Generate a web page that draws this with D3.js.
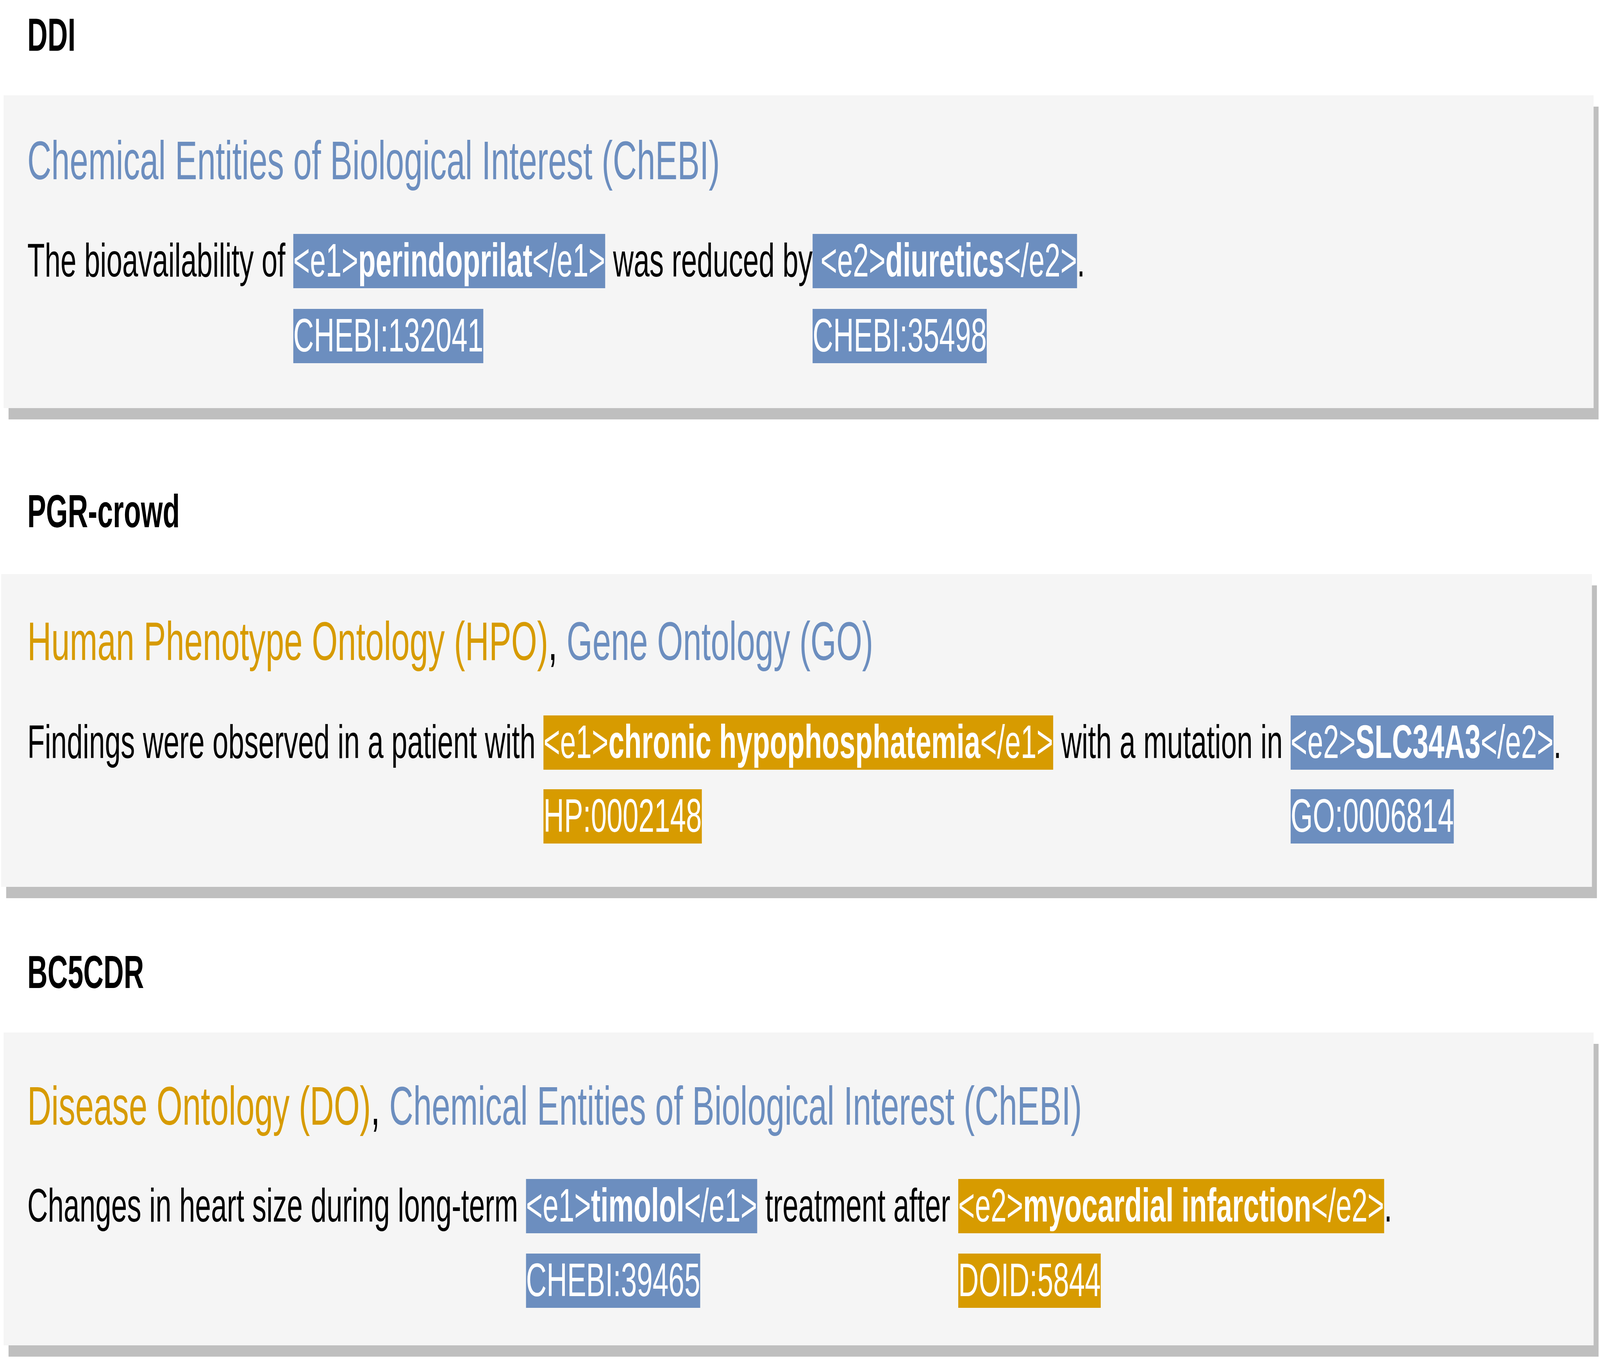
<!DOCTYPE html>
<html>
<head>
<meta charset="utf-8">
<script src="https://cdn.jsdelivr.net/npm/d3@7/dist/d3.min.js"></script>
<style>
  html, body { margin: 0; padding: 0; background: #ffffff; width: 100%; height: 100%; overflow: hidden; }
  svg { display: block; width: 100vw; height: 100vh; }
  svg text { white-space: pre; font-family: "Liberation Sans", Arial, Helvetica, sans-serif; }
</style>
</head>
<body>
<svg id="chart"></svg>
<script>
// ---------------- DATA ----------------
const datasetNames = ["DDI", "PGR-crowd", "BC5CDR"];

// ontology title pieces per dataset (onto key decides colour; null = black separator)
const ontologyTitles = [
  [{ text: "Chemical Entities of Biological Interest (ChEBI)", onto: "ChEBI" }],
  [{ text: "Human Phenotype Ontology (HPO)", onto: "HPO" }, { text: ", ", onto: null }, { text: "Gene Ontology (GO)", onto: "GO" }],
  [{ text: "Disease Ontology (DO)", onto: "DO" }, { text: ", ", onto: null }, { text: "Chemical Entities of Biological Interest (ChEBI)", onto: "ChEBI" }]
];

// example sentences: plain text pieces and tagged entity pieces
const sentences = [
  [
    { text: "The bioavailability of " },
    { open: "<e1>", word: "perindoprilat", close: "</e1>", id: "CHEBI:132041", onto: "ChEBI" },
    { text: " was reduced by" },
    { open: " <e2>", word: "diuretics", close: "</e2>", id: "CHEBI:35498", onto: "ChEBI" },
    { text: "." }
  ],
  [
    { text: "Findings were observed in a patient with " },
    { open: "<e1>", word: "chronic hypophosphatemia", close: "</e1>", id: "HP:0002148", onto: "HPO" },
    { text: " with a mutation in " },
    { open: "<e2>", word: "SLC34A3", close: "</e2>", id: "GO:0006814", onto: "GO" },
    { text: "." }
  ],
  [
    { text: "Changes in heart size during long-term " },
    { open: "<e1>", word: "timolol", close: "</e1>", id: "CHEBI:39465", onto: "ChEBI" },
    { text: " treatment after " },
    { open: "<e2>", word: "myocardial infarction", close: "</e2>", id: "DOID:5844", onto: "DO" },
    { text: "." }
  ]
];

const ontologyKeys = ["ChEBI", "GO", "HPO", "DO"];

// ---------------- LAYOUT / STYLE ----------------
const W = 6740, H = 3480;
const layout = {
  panelX: [15, 5, 15],
  panelRight: [6713, 6706, 6713],
  panelTop: [244, 1470, 2644],
  panelH: 801,
  headerBase: [130, 1350, 2530],
  titleBase: [459, 1690, 2880],
  sentBase: [708, 1941, 3128],
  labelBase: [900, 2130, 3319],
  textX: 115,
  boxAbove: 109,
  boxH: 139,
  shadowDx: 21,
  shadowDy: 29
};
const FS_HEADER = 118, FS_TITLE = 140, FS_TEXT = 120;

const color = d3.scaleOrdinal()
  .domain(ontologyKeys)
  .range(["#6c8ebf", "#6c8ebf", "#d79b00", "#d79b00"])
  .unknown("#000000");

// the drawing is laid out in a 6740 x 3480 space and stretched onto the window
const svg = d3.select("#chart")
  .attr("viewBox", `0 0 ${W} ${H}`)
  .attr("preserveAspectRatio", "none");

svg.append("rect").attr("width", W).attr("height", H).attr("fill", "#ffffff");

const panels = svg.selectAll("g.panel")
  .data(datasetNames)
  .join("g")
  .attr("class", "panel");

panels.each(function (name, i) {
  const g = d3.select(this);
  const px = layout.panelX[i], pr = layout.panelRight[i], pt = layout.panelTop[i];

  // header
  g.append("text")
    .attr("x", layout.textX).attr("y", layout.headerBase[i])
    .attr("font-size", FS_HEADER).attr("font-weight", "bold").attr("fill", "#000")
    .text(name);

  // shadow + panel
  g.append("rect")
    .attr("x", px + layout.shadowDx).attr("y", pt + layout.shadowDy)
    .attr("width", pr - px).attr("height", layout.panelH)
    .attr("fill", "#bfbfbf");
  g.append("rect")
    .attr("x", px).attr("y", pt)
    .attr("width", pr - px).attr("height", layout.panelH)
    .attr("fill", "#f5f5f5");

  // ontology title
  const title = g.append("text")
    .attr("x", layout.textX).attr("y", layout.titleBase[i])
    .attr("font-size", FS_TITLE);
  title.selectAll("tspan")
    .data(ontologyTitles[i])
    .join("tspan")
    .attr("fill", d => color(d.onto))
    .text(d => d.text);

  // sentence
  let x = layout.textX;
  const yb = layout.sentBase[i];
  const lb = layout.labelBase[i];
  sentences[i].forEach(seg => {
    if (seg.word === undefined) {
      const t = g.append("text")
        .attr("x", x).attr("y", yb)
        .attr("font-size", FS_TEXT).attr("fill", "#000")
        .text(seg.text);
      x += t.node().getComputedTextLength();
    } else {
      const c = color(seg.onto);
      const box = g.append("rect").attr("fill", c);
      const t = g.append("text")
        .attr("x", x).attr("y", yb)
        .attr("font-size", FS_TEXT).attr("fill", "#ffffff");
      t.append("tspan").text(seg.open);
      t.append("tspan").attr("font-weight", "bold").text(seg.word);
      t.append("tspan").text(seg.close);
      const w = t.node().getComputedTextLength();
      box.attr("x", x).attr("y", yb - layout.boxAbove)
        .attr("width", w).attr("height", layout.boxH);

      // id label below
      const lbox = g.append("rect").attr("fill", c);
      const lt = g.append("text")
        .attr("x", x).attr("y", lb)
        .attr("font-size", FS_TEXT).attr("fill", "#ffffff")
        .text(seg.id);
      const lw = lt.node().getComputedTextLength();
      lbox.attr("x", x).attr("y", lb - layout.boxAbove)
        .attr("width", lw).attr("height", layout.boxH);
      x += w;
    }
  });
});
</script>
</body>
</html>
